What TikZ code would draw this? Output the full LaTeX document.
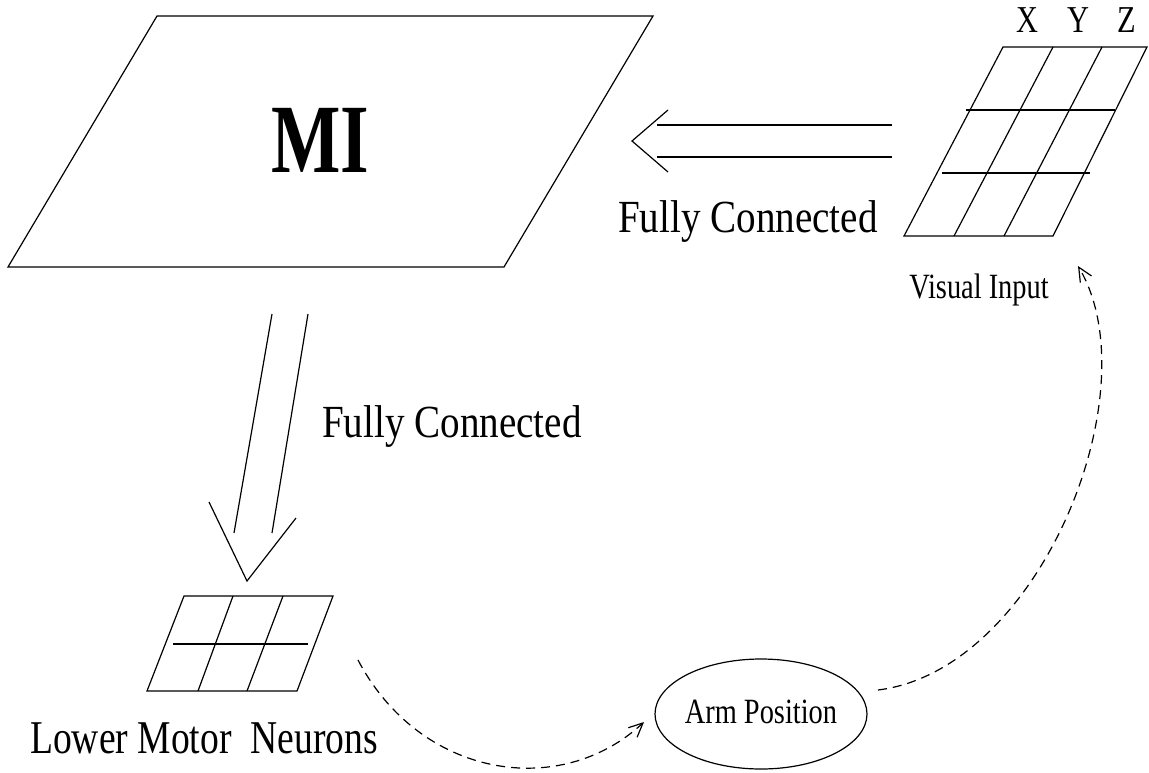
\documentclass[tikz,border=0pt]{standalone}
\usepackage{fontspec}
\setmainfont[FakeStretch=0.8]{Liberation Serif}
\newfontfamily\mifont[FakeStretch=0.75]{Liberation Serif}
\newfontfamily\widefont[FakeStretch=0.85]{Liberation Serif}
\usepackage{tikz}
\usetikzlibrary{arrows.meta,shapes.geometric}

\begin{document}
\begin{tikzpicture}[x=1pt,y=-1pt,line width=1.2pt]
		\tikzstyle{label_big}=[inner sep=0, anchor=base, font={\widefont\fontsize{46}{50}\selectfont}]
		\tikzstyle{label_small}=[inner sep=0, anchor=base, font=\fontsize{38}{42}\selectfont]
		\tikzstyle{label_tiny}=[inner sep=0, anchor=base, font=\fontsize{35.5}{40}\selectfont]
		\tikzstyle{feedback}=[dash pattern=on 9pt off 6pt, -{Straight Barb[length=14pt,width=13pt]}]
		\tikzstyle{arm_pos}=[draw, ellipse, minimum width=212pt, minimum height=110pt, inner sep=0]

		\useasboundingbox (0,0) rectangle (1149,772);

		% MI sheet
		\draw (157,16) -- (653,16) -- (504,267) -- (8,267) -- cycle;
		\node (MI) at (320,172) [anchor=base, inner sep=0, font={\mifont\bfseries\fontsize{98}{100}\selectfont}] {MI};

		% visual input grid
		\draw (904,236) -- (1003,47) -- (1147,47) -- (1053,236) -- cycle;
		\draw (1053,47) -- (954,236);
		\draw (1102,47) -- (1004,236);
		\draw (966,110) -- (1115,110);
		\draw (942,173) -- (1090,173);
		\node (X) at (1027,32) [label_small] {X};
		\node (Y) at (1078,32) [label_small] {Y};
		\node (Z) at (1127,32) [label_small] {Z};
		\node (visual) at (979,298) [label_tiny] {Visual Input};

		% lower motor neurons grid
		\draw (147,691) -- (184,596) -- (333,596) -- (297,691) -- cycle;
		\draw (233,596) -- (198,691);
		\draw (283,596) -- (247,691);
		\draw (173,644) -- (308,644);
		\node (lmn) at (204,753) [label_big, font=\fontsize{47}{50}\selectfont] {Lower Motor \ Neurons};

		% fully connected, visual -> MI
		\draw (892,125) -- (657,125);
		\draw (892,157) -- (657,157);
		\draw (668,110) -- (632,141) -- (668,172);
		\node (fc1) at (748,232) [label_big] {Fully Connected};

		% fully connected, MI -> lower motor neurons
		\draw (272,314) -- (234,533);
		\draw (308,314) -- (272,533);
		\draw (209,502) -- (247,581) -- (296,518);
		\node (fc2) at (452,437) [label_big] {Fully Connected};

		% arm position loop
		\node (arm) at (761,714) [arm_pos] {};
		\node (armtext) at (761,723) [label_tiny] {Arm Position};
		\coordinate (lmn_out) at (358,660);
		\coordinate (arm_in) at (644,722);
		\coordinate (arm_out) at (878,690);
		\coordinate (visual_in) at (1078,266);
		\draw [feedback] (lmn_out) .. controls (420,778) and (560,800) .. (arm_in);
		\draw [feedback] (arm_out) .. controls (1040,670) and (1152,390) .. (visual_in);

	\end{tikzpicture}
\end{document}
